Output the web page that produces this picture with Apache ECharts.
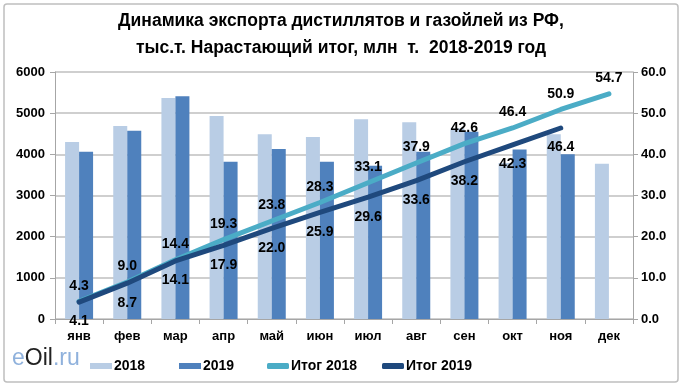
<!DOCTYPE html>
<html><head><meta charset="utf-8">
<script src="https://cdn.jsdelivr.net/npm/echarts@6/dist/echarts.min.js"></script>
<style>html,body{margin:0;padding:0;background:#fff}#c{width:682px;height:389px}</style>
</head><body><div id="c"></div>
<script>
const categories = ['янв','фев','мар','апр','май','июн','июл','авг','сен','окт','ноя','дек'];
const exp2018 = [4300,4690,5370,4930,4490,4420,4850,4780,4630,3790,4490,3770];
const exp2019 = [4060,4570,5410,3820,4130,3820,3720,4060,4550,4120,4000,null];
const total2018 = [4.3,9.0,14.4,19.3,23.8,28.3,33.1,37.9,42.6,46.4,50.9,54.7];
const total2019 = [4.1,8.7,14.1,17.9,22.0,25.9,29.6,33.6,38.2,42.3,46.4,null];
const leftTicks = [0,1000,2000,3000,4000,5000,6000];
const rightTicks = [0,10,20,30,40,50,60];
const legendNames = ['2018','2019','Итог 2018','Итог 2019'];

const F = '"Liberation Sans Narrow","Arial Narrow","Liberation Sans",Arial,sans-serif';
const legendLefts = [85,174,262,377];
const legends = legendNames.map((n,i)=>({
  top:354, left:legendLefts[i], itemWidth:22, itemHeight:6, itemGap:0,
  textStyle:{fontFamily:F,fontWeight:'bold',fontSize:14,color:'#000',padding:[0,0,0,-3]},
  data:[{name:n,icon:i<2?'rect':'roundRect'}]
}));
const chart = echarts.init(document.getElementById('c'), null, {renderer:'canvas'});
chart.setOption({
  animation:false,
  backgroundColor:'#fff',
  title:{
    text:'Динамика экспорта дистиллятов и газойлей из РФ,\nтыс.т. Нарастающий итог, млн  т.  2018-2019 год',
    left:'center', top:3,
    textStyle:{fontFamily:F,fontWeight:'bold',fontSize:17.5,lineHeight:27,color:'#000'}
  },
  graphic:[
    {type:'rect',shape:{x:4,y:4,width:674,height:378,r:3},style:{fill:'none',stroke:'#bfbfbf',lineWidth:1.5},silent:true},
    {type:'text',left:12,top:347,style:{rich:{a:{fill:'#8fb1dc',fontSize:23,fontFamily:'Arial,sans-serif'},b:{fill:'#222',fontSize:23,fontFamily:'Arial,sans-serif'}},text:'{a|e}{b|Oil}{a|.ru}'}}
  ],
  legend:legends,
  grid:{left:55,right:49,top:72,bottom:70},
  xAxis:{
    type:'category', data:categories, boundaryGap:true,
    axisLine:{lineStyle:{color:'#a6a6a6'}},
    axisTick:{show:true,alignWithLabel:false,length:5,lineStyle:{color:'#a6a6a6'}},
    axisLabel:{fontFamily:F,fontWeight:'bold',fontSize:13,color:'#000',margin:11}
  },
  yAxis:[
    {type:'value',min:leftTicks[0],max:leftTicks[leftTicks.length-1],interval:1000,
     axisLine:{show:true,lineStyle:{color:'#a6a6a6'}},
     axisTick:{show:true,length:5,lineStyle:{color:'#a6a6a6'}},
     splitLine:{lineStyle:{color:'#bfbfbf',width:1.5}},
     axisLabel:{fontFamily:F,fontWeight:'bold',fontSize:13,color:'#000',margin:10,formatter:v=>String(v)}},
    {type:'value',min:rightTicks[0],max:rightTicks[rightTicks.length-1],interval:10,
     axisLine:{show:true,lineStyle:{color:'#a6a6a6'}},
     axisTick:{show:true,length:5,lineStyle:{color:'#a6a6a6'}},
     splitLine:{show:false},
     axisLabel:{fontFamily:F,fontWeight:'bold',fontSize:13,color:'#000',margin:8,formatter:v=>v.toFixed(1)}}
  ],
  series:[
    {name:'2018',type:'bar',data:exp2018,barWidth:14,barGap:'0%',itemStyle:{color:'#b9cde5'}},
    {name:'2019',type:'bar',data:exp2019,barWidth:14,barGap:'0%',itemStyle:{color:'#4f81bd'}},
    {name:'Итог 2018',type:'line',yAxisIndex:1,data:total2018,symbol:'circle',symbolSize:1,showSymbol:true,z:5,
     lineStyle:{color:'#4bacc6',width:5,cap:'round'},itemStyle:{color:'#4bacc6'},
     label:{show:true,position:'top',distance:8,fontFamily:F,fontWeight:'bold',fontSize:14,color:'#000',formatter:p=>p.value.toFixed(1)}},
    {name:'Итог 2019',type:'line',yAxisIndex:1,data:total2019,symbol:'circle',symbolSize:1,showSymbol:true,z:6,
     lineStyle:{color:'#1f497d',width:5,cap:'round'},itemStyle:{color:'#1f497d'},
     label:{show:true,position:'bottom',distance:12,fontFamily:F,fontWeight:'bold',fontSize:14,color:'#000',formatter:p=>p.value==null?'':p.value.toFixed(1)}}
  ]
});
</script></body></html>
